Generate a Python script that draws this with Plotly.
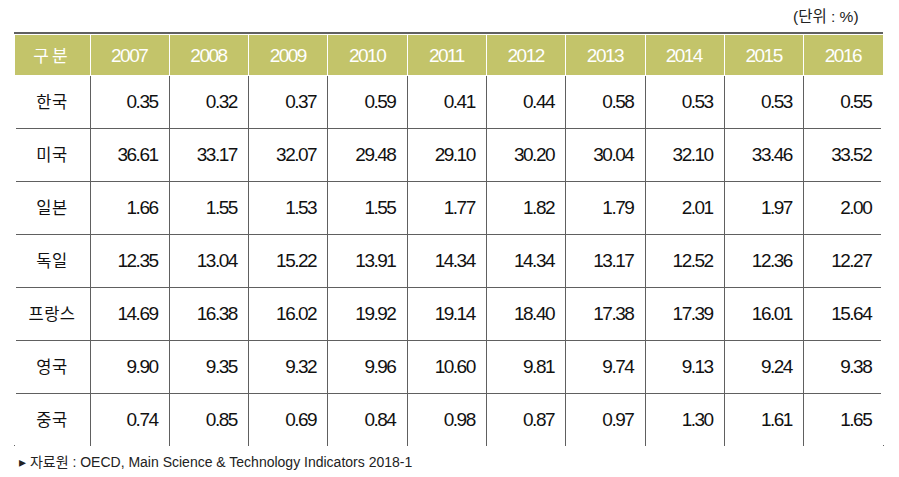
import plotly.graph_objects as go

years = ["2007", "2008", "2009", "2010", "2011", "2012", "2013", "2014", "2015", "2016"]
countries = ["한국", "미국", "일본", "독일", "프랑스", "영국", "중국"]
korea   = [0.35, 0.32, 0.37, 0.59, 0.41, 0.44, 0.58, 0.53, 0.53, 0.55]
usa     = [36.61, 33.17, 32.07, 29.48, 29.10, 30.20, 30.04, 32.10, 33.46, 33.52]
japan   = [1.66, 1.55, 1.53, 1.55, 1.77, 1.82, 1.79, 2.01, 1.97, 2.00]
germany = [12.35, 13.04, 15.22, 13.91, 14.34, 14.34, 13.17, 12.52, 12.36, 12.27]
france  = [14.69, 16.38, 16.02, 19.92, 19.14, 18.40, 17.38, 17.39, 16.01, 15.64]
uk      = [9.90, 9.35, 9.32, 9.96, 10.60, 9.81, 9.74, 9.13, 9.24, 9.38]
china   = [0.74, 0.85, 0.69, 0.84, 0.98, 0.87, 0.97, 1.30, 1.61, 1.65]
header_first = "구분"
unit_text = "(단위 : %)"
source_text = "▸ 자료원 : OECD, Main Science &amp; Technology Indicators 2018-1"

rows = [korea, usa, japan, germany, france, uk, china]

W, H = 899, 477
FONT = "Liberation Sans, Arial, Noto Sans CJK KR, sans-serif"
GRID = "#606060"
HEAD = "#C3C46A"
TXT = "#111111"

x0, x1 = 14, 883
ytop, ybot = 34, 446
first_w = 76
HEAD_H, ROW_H = 41, 53
BASE_CELL = 11.4  # base size: sets the spacer line that centres text vertically
BASE_HEAD = 9.2


def cell_text(s, size=19, spacing=-1.5, pad=""):
    return (f"&nbsp;<br><span style='font-size:{size}px;letter-spacing:{spacing}px'>"
            f"{s}{pad}</span>")


col_values = [[cell_text(c, size=16.5, spacing=0.5) for c in countries]] + \
    [[cell_text(f"{r[i]:.2f}", pad="&nbsp;") for r in rows] for i in range(len(years))]
col_align = ["center"] + ["right"] * len(years)
head_values = [cell_text(header_first, size=17, spacing=3)] + [cell_text(y) for y in years]

fig = go.Figure(go.Table(
    domain=dict(x=[x0 / W, x1 / W], y=[1 - ybot / H, 1 - ytop / H]),
    columnwidth=[first_w] + [(x1 - x0 - first_w) / len(years)] * len(years),
    header=dict(
        values=head_values,
        fill_color=HEAD,
        line=dict(color="white", width=1),
        font=dict(family=FONT, size=BASE_HEAD, color="white"),
        align="center",
        height=HEAD_H,
    ),
    cells=dict(
        values=col_values,
        fill_color="white",
        line=dict(color=GRID, width=1),
        font=dict(family=FONT, size=BASE_CELL, color=TXT),
        align=col_align,
        height=ROW_H,
    ),
))

# thick top rule
fig.add_shape(type="line", xref="paper", yref="paper",
              x0=x0 / W, x1=x1 / W, y0=1 - 33 / H, y1=1 - 33 / H,
              line=dict(color=GRID, width=2), layer="above")

# hide the open outer sides of the table body (reference has no side borders)
for xe in (x0, x1):
    fig.add_annotation(xref="paper", yref="paper", x=xe / W, y=1 - (ytop + HEAD_H + 1) / H,
                       xanchor="center", yanchor="top", showarrow=False,
                       text=".", font=dict(size=6, color="white"),
                       width=4, height=ybot - ytop - HEAD_H - 2,
                       bgcolor="white", borderpad=0, borderwidth=0)

fig.add_annotation(xref="paper", yref="paper", x=861 / W, y=1 - 17 / H,
                   xanchor="right", yanchor="middle", showarrow=False,
                   text=unit_text, font=dict(family=FONT, size=15.5, color="#222222"))
fig.add_annotation(xref="paper", yref="paper", x=17 / W, y=1 - 462 / H,
                   xanchor="left", yanchor="middle", showarrow=False,
                   text=source_text, font=dict(family=FONT, size=14, color="#222222"))

fig.update_layout(width=W, height=H, margin=dict(l=0, r=0, t=0, b=0),
                  paper_bgcolor="white", plot_bgcolor="white")
fig.write_html("out.html", config={"displayModeBar": False},
               post_script="document.body.style.margin='0';")
